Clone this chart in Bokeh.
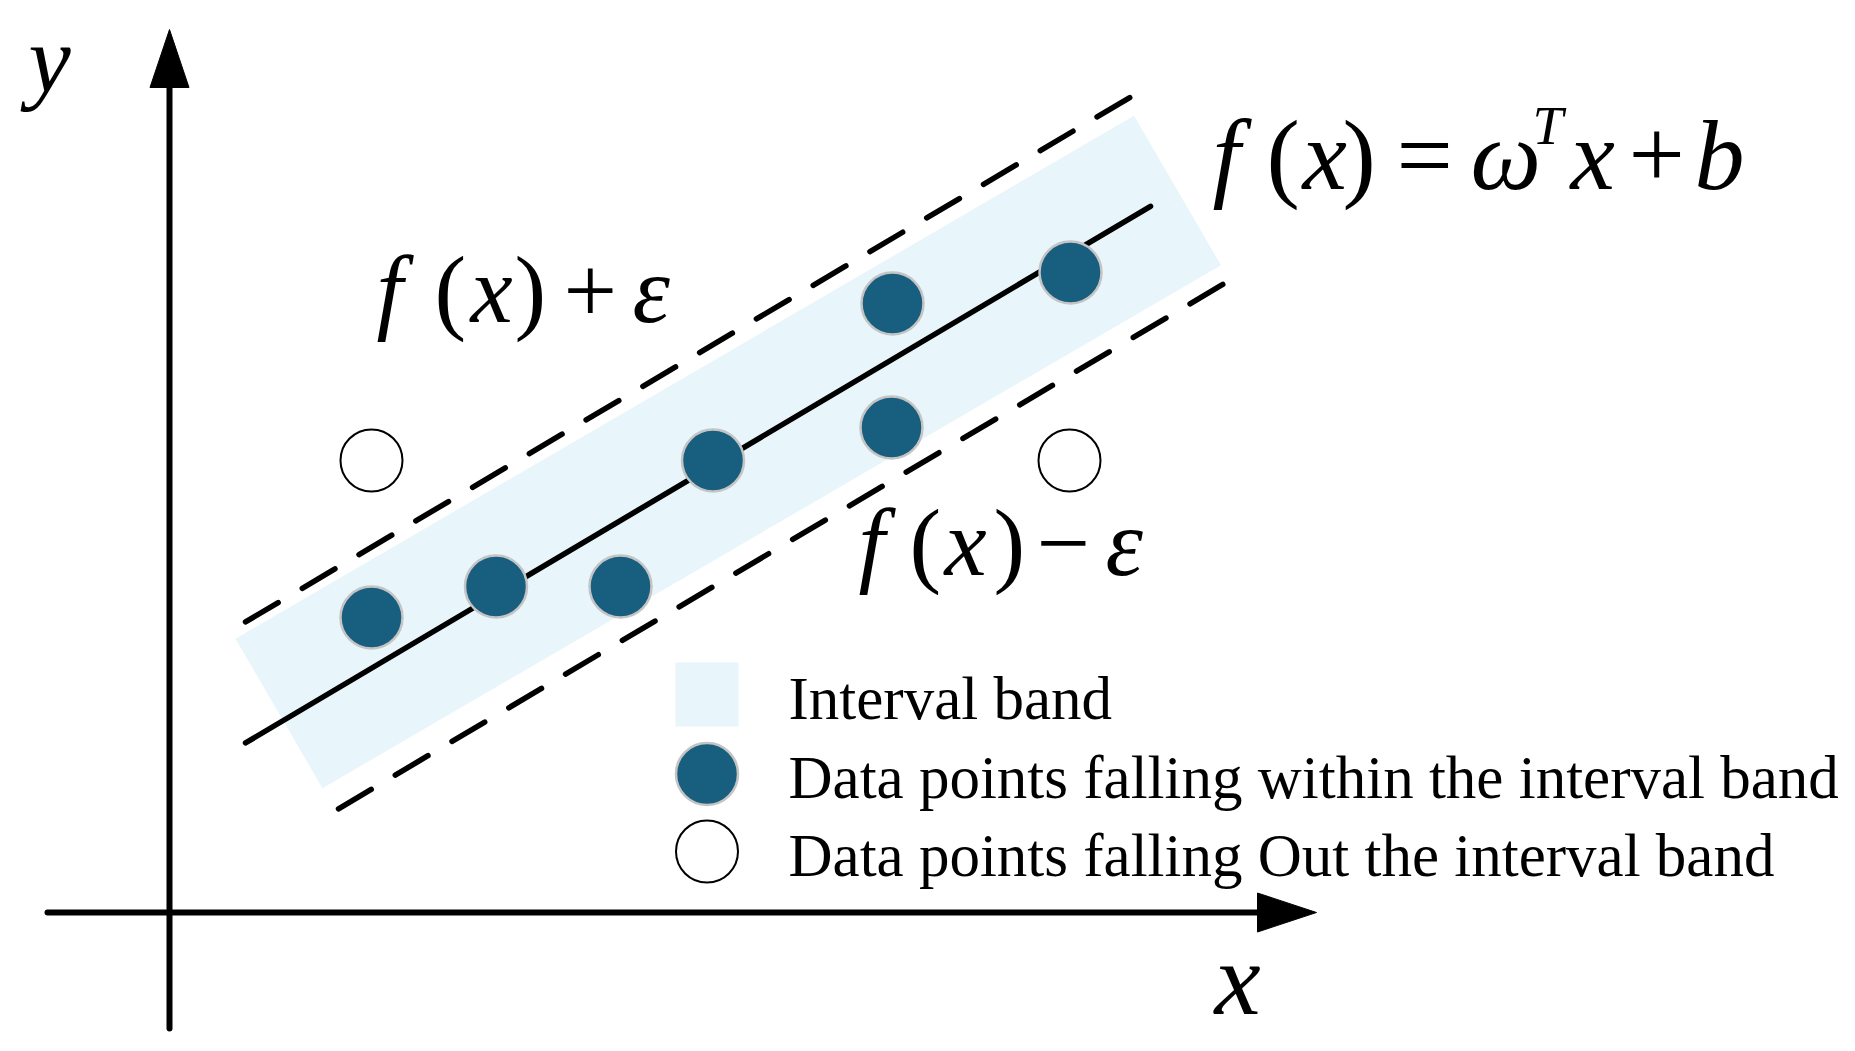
import numpy as np
from bokeh.plotting import figure
from bokeh.models import Range1d
from bokeh.core.properties import value
from bokeh.embed import file_html
from bokeh.resources import INLINE

# ---------------- data (diagram units) ----------------
# regression model f(x) = w*x + b with an epsilon tube
w = 0.593
b = 1.245
eps = 1.21
# shaded interval band (centre line, vertical half height, x extent of its ends)
band_slope = 0.582
band_icpt = 1.353
band_half = 1.0
band_x = [1.095, 10.08]

# extents of the three drawn lines
line_x = [0.76, 9.81]
upper_x = [0.76, 9.64]
lower_x = [1.69, 10.56]

# data points inside / outside the interval band
in_x = [2.02, 3.265, 4.51, 5.435, 7.22, 7.23, 9.01]
in_y = [2.95, 3.26, 3.26, 4.52, 4.85, 6.09, 6.40]
out_x = [2.02, 9.00]
out_y = [4.52, 4.52]

legend_labels = ["Interval band",
                 "Data points falling within the interval band",
                 "Data points falling Out the interval band"]

# ---------------- styling ----------------
BAND = "#e8f5fb"
DOT = "#175e7f"
DOT_EDGE = "#c4c4c4"
FONT = "Liberation Serif"

W, H = 1839, 1035
OX, OY, S = 169.0, 912.0, 100.0   # picture-pixel origin and pixels per unit
K = 0.33                          # baseline correction (fraction of font size)


def X(px):
    return (px - OX) / S


def Y(py):
    return (OY - py) / S


p = figure(width=W, height=H, output_backend="svg", toolbar_location=None,
           x_axis_type=None, y_axis_type=None, min_border=0,
           x_range=Range1d(X(0), X(W)), y_range=Range1d(Y(H), Y(0)))
p.grid.visible = False
p.outline_line_color = None
p.background_fill_color = "white"
p.border_fill_color = "white"

# interval band (rotated rectangle around its centre line)
th = np.arctan(band_slope)
nx, ny = -np.sin(th), np.cos(th)
hh = band_half * np.cos(th)
c0 = np.array([band_x[0], band_slope * band_x[0] + band_icpt])
c1 = np.array([band_x[1], band_slope * band_x[1] + band_icpt])
n = np.array([nx, ny]) * hh
corners = [c0 + n, c1 + n, c1 - n, c0 - n]
p.patch([c[0] for c in corners], [c[1] for c in corners],
        fill_color=BAND, line_color=None)

f = lambda xs: [w * v + b for v in xs]
LW = 5.5
p.line(line_x, f(line_x), line_color="black", line_width=LW, line_cap="round")
p.line(upper_x, [v + eps for v in f(upper_x)], line_color="black", line_width=LW,
       line_dash="38 28", line_cap="round")
p.line(lower_x, [v - eps for v in f(lower_x)], line_color="black", line_width=LW,
       line_dash="38 28", line_cap="round")

p.scatter(in_x, in_y, size=62, fill_color=DOT, line_color=DOT_EDGE, line_width=2.5)
p.scatter(out_x, out_y, size=62, fill_color="white", line_color="black", line_width=2)

# coordinate axes with arrow heads
AXW = 6
p.line([X(47), X(1262)], [0, 0], line_color="black", line_width=AXW, line_cap="round")
p.patch([X(1257), X(1316), X(1257)], [Y(912 - 19.5), 0, Y(912 + 19.5)],
        fill_color="black", line_color="black", line_width=1)
p.line([0, 0], [Y(1028), Y(82)], line_color="black", line_width=AXW, line_cap="round")
p.patch([X(169 - 19.5), 0, X(169 + 19.5)], [Y(87), Y(29), Y(87)],
        fill_color="black", line_color="black", line_width=1)


def txt(s, px, py, size, italic=True, align="left"):
    p.text([X(px)], [Y(py - K * size)], text=[s], text_font=value(FONT),
           text_font_size=f"{size}px", text_align=align,
           text_baseline="alphabetic", text_color="black",
           text_font_style="italic" if italic else "normal")


# axis labels
txt("y", 28, 91, 95)
txt("x", 1214, 1012, 104)

# equations, built piece by piece (italic variables, upright symbols)
for s, px, it in [("f", 376, True), ("(", 434, False), ("x", 470, True),
                  (")", 514, False), ("+", 563, False), ("ε", 632, True)]:
    txt(s, px, 321, 95, it)
for s, px, it in [("f", 858, True), ("(", 909, False), ("x", 944, True),
                  (")", 993, False), ("−", 1036, False), ("ε", 1105, True)]:
    txt(s, px, 574, 95, it)
for s, px, it in [("f", 1212, True), ("(", 1266, False), ("x", 1302, True),
                  (")", 1342, False), ("=", 1396, False), ("ω", 1470, True),
                  ("x", 1570, True), ("+", 1628, False), ("b", 1694, True)]:
    txt(s, px, 188, 100, it)
txt("T", 1532, 143, 55)

# legend
p.quad(left=[X(675)], right=[X(738)], top=[Y(662)], bottom=[Y(726)],
       fill_color=BAND, line_color=None)
p.scatter([X(706.5)], [Y(773.5)], size=62, fill_color=DOT, line_color=DOT_EDGE, line_width=2.5)
p.scatter([X(706.5)], [Y(851)], size=62, fill_color="white", line_color="black", line_width=2)
for lab, py in zip(legend_labels, [718, 797, 875]):
    txt(lab, 788, py, 61, italic=False)

open("out.html", "w").write(file_html(p, INLINE))
